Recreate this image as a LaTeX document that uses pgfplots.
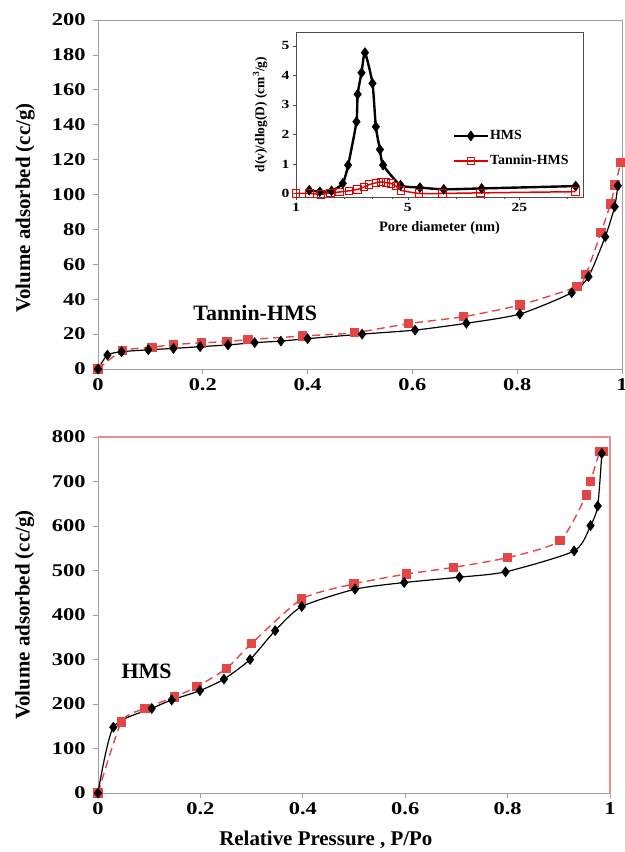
\documentclass[border=0pt]{standalone}
\usepackage{fontspec}
\setmainfont{Liberation Serif}
\newfontfamily\tickfont{Liberation Serif}[FakeStretch=1.25]
\usepackage{pgfplots}
\pgfplotsset{compat=1.18}
\definecolor{myred}{RGB}{228,70,70}
\definecolor{axgray}{RGB}{160,160,160}
\definecolor{framered}{RGB}{240,140,140}

\pgfplotstableread{
P V
0     0
0.018 8
0.045 9.9
0.096 11
0.144 11.8
0.195 12.8
0.248 13.8
0.299 15.1
0.349 16
0.400 17.4
0.504 20
0.605 22.3
0.703 26.2
0.805 31.5
0.904 43.7
0.936 52.9
0.968 75.8
0.986 93
0.992 105
}\tophms
\pgfplotstableread{
P V
0     0
0.047 10.5
0.103 12.4
0.144 14
0.197 15
0.246 15.7
0.286 16.8
0.390 18.9
0.489 20.8
0.593 26
0.698 30
0.805 36.7
0.914 47.2
0.931 54.2
0.960 78.3
0.978 94.6
0.987 105.4
0.998 118.5
}\toptan
\pgfplotstableread{
P V
0     0
0.030 148
0.105 190
0.144 209
0.199 230
0.246 256
0.297 300
0.346 365
0.398 419
0.502 458
0.598 473
0.706 485
0.796 497
0.930 544
0.962 601
0.976 645
0.984 763
}\bothms
\pgfplotstableread{
P V
0     0
0.046 160
0.092 190
0.150 216
0.193 239
0.251 280
0.300 336
0.398 436
0.500 470
0.602 492
0.694 507
0.800 529
0.902 567
0.954 670
0.962 700
0.980 767
0.986 767
}\bottan
\pgfplotstableread{
D v
1.21 0.11
1.41 0.06
1.67 0.09
1.96 0.34
2.12 0.96
2.39 2.43
2.43 3.36
2.57 4.09
2.70 4.77
3.01 3.73
3.16 2.26
3.35 1.49
3.51 0.96
4.51 0.28
5.96 0.20
8.41 0.14
14.5 0.17
56.2 0.25
}\inhms
\pgfplotstableread{
D v
1.00 0.00
1.21 0.00
1.43 -0.03
1.65 0.02
1.87 0.05
2.15 0.09
2.43 0.14
2.67 0.22
2.87 0.30
3.16 0.36
3.40 0.39
3.65 0.37
3.92 0.34
4.22 0.25
4.53 0.11
5.90 0.00
8.26 0.00
14.3 0.02
56.0 0.06
}\intan

\begin{document}
\begin{tikzpicture}
\path[use as bounding box] (0,0) rectangle (625bp,-852bp);
\pgfplotsset{
  myaxis/.style={
    scale only axis,
    axis line style={axgray, line width=0.8pt},
    tick style={axgray, line width=0.8pt},
    tick align=outside,
    major tick length=5bp,
    xtick pos=bottom, ytick pos=left,
    /pgf/number format/assume math mode=true,
    ticklabel style={font=\tickfont\bfseries\fontsize{18}{18}\selectfont, text=black},
    yticklabel style={xshift=-4bp},
    xticklabel style={yshift=-1bp},
    label style={font=\bfseries\fontsize{21}{21}\selectfont},
    clip=false,
  },
}
% ---------------- top plot
\begin{axis}[myaxis,
  at={(98bp,-369bp)}, anchor=south west,
  width=524bp, height=349bp,
  xmin=0, xmax=1, ymin=0, ymax=200,
  xtick={0,0.2,0.4,0.6,0.8,1},
  ytick={0,20,...,200},
  ylabel={Volume adsorbed (cc/g)},
  ylabel style={at={(axis description cs:-0.139,0.461)}, anchor=center},
]
\addplot[myred, dash pattern=on 8bp off 5bp, line width=1.4pt, smooth, tension=0.4,
  mark=square*, mark size=4bp, mark options={solid, fill=myred}] table[x=P,y=V] {\toptan};
\addplot[black, line width=1.2pt, smooth, tension=0.4,
  mark=diamond*, mark size=4.5bp, mark options={solid, fill=black}] table[x=P,y=V] {\tophms};
\node[font=\bfseries\fontsize{22}{22}\selectfont] at (axis cs:0.3,32) {Tannin-HMS};
\end{axis}
% ---------------- inset
\begin{axis}[
  scale only axis,
  at={(296bp,-197bp)}, anchor=south west,
  width=287bp, height=165bp,
  xmode=log, xmin=1, xmax=62.5, ymin=-0.12, ymax=5.47,
  axis line style={black!70, line width=0.8pt},
  tick style={black!70},
  tick align=outside,
  major tick length=3bp, minor tick length=2bp,
  xtick={1,5,25}, xticklabels={1,5,25},
  minor xtick={2,3,4,10,15,20,50},
  ytick={0,1,2,3,4,5},
  xtick pos=bottom, ytick pos=left,
  /pgf/number format/assume math mode=true,
  ticklabel style={font=\tickfont\bfseries\fontsize{12.5}{12.5}\selectfont, text=black},
  xlabel={Pore diameter (nm)},
  ylabel={d(v)/dlog(D) (cm$^{\mathbf{3}}$/g)},
  xlabel style={font=\bfseries\fontsize{14.5}{14.5}\selectfont, at={(axis description cs:0.5,-0.19)}, anchor=center},
  ylabel style={font=\bfseries\fontsize{13.5}{13.5}\selectfont, at={(axis description cs:-0.125,0.5)}, anchor=center},
  legend style={draw=none, fill=none, at={(axis description cs:0.545,0.294)}, anchor=west,
    font=\bfseries\fontsize{14}{14}\selectfont, row sep=12bp, inner sep=0pt,
    nodes={inner sep=1pt}},
  legend cell align=left,
  legend image code/.code={\draw[mark repeat=2,mark phase=2,#1] plot coordinates {(0cm,0cm) (0.6cm,0cm) (1.2cm,0cm)};},
  clip=false,
]
\addplot[black, line width=2.4pt, smooth, tension=0.35,
  mark=diamond*, mark size=5bp, mark options={solid, fill=black, line width=0.5pt}] table[x=D,y=v] {\inhms};
\addlegendentry{HMS}
\addplot[red!90!black, line width=1.5pt, smooth, tension=0.35,
  mark=square, mark size=3.8bp, mark options={solid, fill=white, line width=1pt}] table[x=D,y=v] {\intan};
\addlegendentry{Tannin-HMS}
\end{axis}
% ---------------- bottom plot
\begin{axis}[myaxis,
  at={(98bp,-793bp)}, anchor=south west,
  width=512bp, height=356bp,
  xmin=0, xmax=1, ymin=0, ymax=800,
  axis x line*=bottom, axis y line*=left,
  xtick={0,0.2,0.4,0.6,0.8,1},
  ytick={0,100,...,800},
  ylabel={Volume adsorbed (cc/g)},
  xlabel={Relative Pressure , P/Po},
  ylabel style={at={(axis description cs:-0.143,0.5)}, anchor=center},
  xlabel style={at={(axis description cs:0.445,-0.132)}, anchor=center},
  after end axis/.code={\draw[framered, line width=1.2pt] (rel axis cs:0,1) -- (rel axis cs:1,1) -- (rel axis cs:1,0);},
]
\addplot[myred, dash pattern=on 8bp off 5bp, line width=1.4pt, smooth, tension=0.4,
  mark=square*, mark size=4bp, mark options={solid, fill=myred}] table[x=P,y=V] {\bottan};
\addplot[black, line width=1.2pt, smooth, tension=0.4,
  mark=diamond*, mark size=4.5bp, mark options={solid, fill=black}] table[x=P,y=V] {\bothms};
\node[font=\bfseries\fontsize{22}{22}\selectfont] at (axis cs:0.095,273) {HMS};
\end{axis}
\end{tikzpicture}
\end{document}
